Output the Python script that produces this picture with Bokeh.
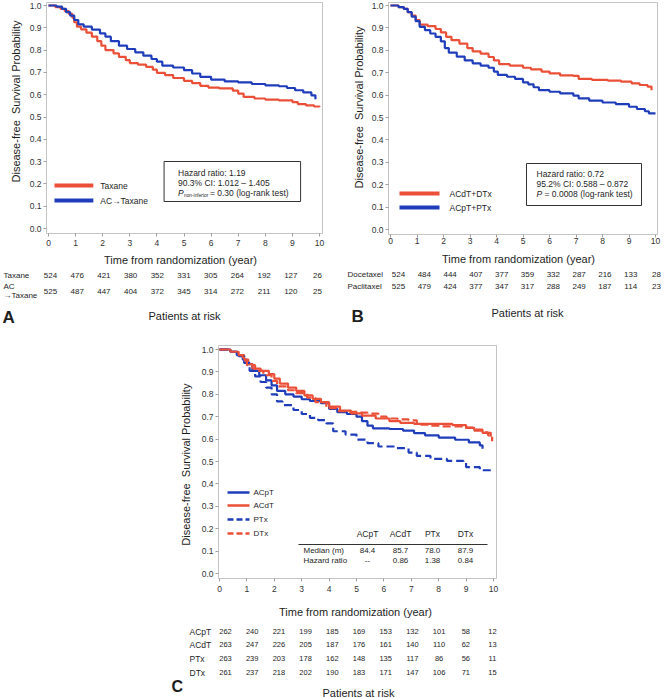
import math
from bokeh.plotting import figure
from bokeh.models import (Label, FixedTicker, PrintfTickFormatter, Range1d, Spacer, BoxAnnotation)
from bokeh.layouts import row, column
from bokeh.embed import file_html
from bokeh.resources import INLINE
from bokeh.core.properties import value

FONT = "Liberation Sans"
RED = "#EB4F37"
BLUE = "#1F3DBB"
TXT = "#1e1e1e"

years = list(range(11))

# ---------------- Panel A data ----------------
a_tax_t = [0, 0.25, 0.45, 0.6, 0.75, 0.88, 0.95, 1.05, 1.2, 1.4, 1.6, 1.8, 1.95, 2.1, 2.4, 2.6, 2.85,
           3.0, 3.3, 3.6, 3.85, 4.0, 4.3, 4.6, 5.0, 5.3, 5.6, 5.9, 6.3, 6.8, 7.0, 7.2, 7.6, 8.0, 8.5,
           9.0, 9.2, 9.5, 9.8, 10.0]
a_tax_s = [1.0, 0.993, 0.985, 0.975, 0.962, 0.945, 0.925, 0.905, 0.893, 0.878, 0.86, 0.84, 0.82,
           0.80, 0.785, 0.77, 0.755, 0.742, 0.735, 0.725, 0.712, 0.698, 0.688, 0.675, 0.662, 0.652,
           0.64, 0.632, 0.628, 0.618, 0.605, 0.59, 0.583, 0.578, 0.575, 0.567, 0.558, 0.552, 0.547,
           0.545]
a_act_t = [0, 0.3, 0.5, 0.65, 0.8, 0.95, 1.1, 1.3, 1.6, 1.9, 2.1, 2.3, 2.6, 2.9, 3.2, 3.5, 3.8, 4.0,
           4.2, 4.6, 5.0, 5.3, 5.6, 6.0, 6.5, 7.0, 7.5, 8.0, 8.5, 8.8, 9.1, 9.4, 9.7, 9.85]
a_act_s = [1.0, 0.995, 0.985, 0.97, 0.955, 0.935, 0.915, 0.905, 0.892, 0.875, 0.86, 0.84, 0.82,
           0.805, 0.79, 0.775, 0.76, 0.748, 0.73, 0.722, 0.71, 0.695, 0.68, 0.668, 0.66, 0.655,
           0.648, 0.642, 0.638, 0.63, 0.62, 0.61, 0.597, 0.58]
a_risk_taxane = [524, 476, 421, 380, 352, 331, 305, 264, 192, 127, 26]
a_risk_act = [525, 487, 447, 404, 372, 345, 314, 272, 211, 120, 25]

# ---------------- Panel B data ----------------
b_d_t = [0, 0.3, 0.5, 0.65, 0.8, 0.95, 1.1, 1.4, 1.7, 1.9, 2.1, 2.3, 2.6, 2.9, 3.1, 3.4, 3.7, 3.9,
         4.1, 4.5, 5.0, 5.3, 5.7, 6.0, 6.4, 6.9, 7.1, 7.6, 8.2, 8.7, 9.1, 9.4, 9.7, 9.85]
b_d_s = [1.0, 0.993, 0.985, 0.97, 0.955, 0.935, 0.915, 0.908, 0.895, 0.88, 0.86, 0.845, 0.83,
         0.81, 0.795, 0.785, 0.77, 0.755, 0.738, 0.732, 0.722, 0.715, 0.705, 0.697, 0.688, 0.686,
         0.672, 0.668, 0.665, 0.66, 0.652, 0.645, 0.638, 0.622]
b_p_t = [0, 0.3, 0.5, 0.65, 0.8, 0.95, 1.1, 1.3, 1.5, 1.7, 1.9, 2.05, 2.2, 2.5, 2.8, 3.1, 3.4, 3.7,
         3.9, 4.05, 4.4, 4.7, 5.0, 5.2, 5.4, 5.6, 6.0, 6.4, 6.9, 7.1, 7.5, 8.0, 8.5, 9.0, 9.3, 9.6,
         9.75, 10.0]
b_p_s = [1.0, 0.993, 0.985, 0.97, 0.95, 0.93, 0.905, 0.89, 0.875, 0.86, 0.84, 0.81, 0.79, 0.772,
         0.755, 0.742, 0.732, 0.722, 0.705, 0.69, 0.682, 0.672, 0.657, 0.648, 0.635, 0.622, 0.615,
         0.608, 0.598, 0.585, 0.575, 0.567, 0.56, 0.548, 0.538, 0.528, 0.518, 0.518]
b_risk_doce = [524, 484, 444, 407, 377, 359, 332, 287, 216, 133, 28]
b_risk_pacli = [525, 479, 424, 377, 347, 317, 288, 249, 187, 114, 23]

# ---------------- Panel C data ----------------
c_acpt_t = [0, 0.4, 0.63, 0.85, 1.0, 1.2, 1.45, 1.7, 1.9, 2.1, 2.4, 2.7, 3.0, 3.3, 3.7, 4.0, 4.3,
            4.65, 5.0, 5.2, 5.4, 5.6, 6.2, 6.7, 7.1, 7.5, 8.0, 8.6, 9.1, 9.5, 9.6]
c_acpt_s = [1.0, 0.99, 0.975, 0.955, 0.935, 0.905, 0.885, 0.862, 0.84, 0.815, 0.8, 0.79, 0.778,
            0.77, 0.76, 0.735, 0.72, 0.712, 0.70, 0.68, 0.66, 0.648, 0.645, 0.638, 0.627, 0.617,
            0.607, 0.597, 0.585, 0.572, 0.557]
c_acdt_t = [0, 0.4, 0.7, 0.9, 1.05, 1.2, 1.5, 1.8, 2.0, 2.2, 2.5, 2.8, 3.1, 3.4, 3.7, 4.0, 4.4, 4.8,
            5.2, 5.7, 6.2, 6.6, 7.1, 7.8, 8.5, 9.0, 9.3, 9.6, 9.9]
c_acdt_s = [1.0, 0.99, 0.975, 0.955, 0.935, 0.915, 0.905, 0.89, 0.87, 0.848, 0.83, 0.815, 0.795,
            0.78, 0.765, 0.745, 0.727, 0.715, 0.705, 0.692, 0.68, 0.672, 0.668, 0.668, 0.662, 0.65,
            0.638, 0.628, 0.61]
c_ptx_t = [0, 0.4, 0.7, 0.9, 1.1, 1.3, 1.5, 1.7, 1.9, 2.1, 2.3, 2.7, 3.0, 3.3, 3.6, 3.9, 4.15, 4.6,
           5.0, 5.4, 5.8, 6.4, 6.9, 7.2, 7.7, 8.3, 8.9, 9.0, 9.5, 10.0]
c_ptx_s = [1.0, 0.99, 0.97, 0.94, 0.905, 0.88, 0.855, 0.83, 0.8, 0.768, 0.752, 0.73, 0.712, 0.695,
           0.685, 0.67, 0.635, 0.62, 0.598, 0.582, 0.567, 0.56, 0.54, 0.525, 0.512, 0.503, 0.498,
           0.475, 0.461, 0.458]
c_dtx_t = [0, 0.4, 0.63, 0.85, 1.0, 1.3, 1.6, 1.9, 2.1, 2.5, 2.8, 3.2, 3.5, 3.9, 4.3, 4.7, 5.1, 5.4,
           5.8, 6.1, 6.5, 6.9, 7.2, 7.7, 8.1, 8.6, 8.9, 9.3, 9.6, 9.8, 9.95]
c_dtx_s = [1.0, 0.99, 0.975, 0.95, 0.93, 0.905, 0.885, 0.86, 0.835, 0.818, 0.805, 0.785, 0.765,
           0.738, 0.725, 0.722, 0.718, 0.714, 0.7, 0.692, 0.688, 0.684, 0.665, 0.66, 0.657, 0.657,
           0.651, 0.642, 0.63, 0.617, 0.59]
c_risk_acpt = [262, 240, 221, 199, 185, 169, 153, 132, 101, 58, 12]
c_risk_acdt = [263, 247, 226, 205, 187, 176, 161, 140, 110, 62, 13]
c_risk_ptx = [263, 239, 203, 178, 162, 148, 135, 117, 86, 56, 11]
c_risk_dtx = [261, 237, 218, 202, 190, 183, 171, 147, 106, 71, 15]
c_arms = ["ACpT", "ACdT", "PTx", "DTx"]
c_median = ["84.4", "85.7", "78.0", "87.9"]
c_hr = ["--", "0.86", "1.38", "0.84"]

YT = "Disease-free\u00a0 Survival Probability"
XT = "Time from randomization (year)"
LW = 2.2


def mapper(x0, x10, y0, y1):
    X = lambda px: (px - x0) / (x10 - x0) * 10.0
    Y = lambda py: (y0 - py) / (y0 - y1)
    return X, Y


def plot_fig(ox, oy, w, h, fl, fr, ft, fb, X, Y, xstand):
    p = figure(width=w, height=h, output_backend="svg", toolbar_location=None,
               x_range=Range1d(X(fl), X(fr)), y_range=Range1d(Y(fb), Y(ft)),
               min_border_left=fl - ox, min_border_right=ox + w - fr,
               min_border_top=ft - oy, min_border_bottom=oy + h - fb)
    p.xgrid.visible = False
    p.ygrid.visible = False
    p.outline_line_color = "#c4c4c4"
    p.outline_line_width = 1
    p.background_fill_color = "white"
    p.border_fill_color = "white"
    for ax in (p.xaxis[0], p.yaxis[0]):
        ax.axis_line_color = None
        ax.major_tick_line_color = "#a0a0a0"
        ax.major_tick_out = 3
        ax.major_tick_in = 0
        ax.minor_tick_line_color = None
        ax.major_label_text_font = FONT
        ax.major_label_text_font_size = "8.5px"
        ax.major_label_text_color = "#333333"
    p.xaxis.ticker = FixedTicker(ticks=years)
    p.yaxis.ticker = FixedTicker(ticks=[i / 10 for i in range(11)])
    p.yaxis.formatter = PrintfTickFormatter(format="%.1f")
    p.yaxis.major_label_standoff = 2
    p.xaxis.major_label_standoff = xstand
    return p


def canvas_fig(ox, oy, w, h, X=None):
    """Figure whose frame covers the whole area; y in page pixels, x in years (if X) or pixels."""
    xr = Range1d(X(ox), X(ox + w)) if X else Range1d(ox, ox + w)
    p = figure(width=w, height=h, output_backend="svg", toolbar_location=None,
               x_range=xr, y_range=Range1d(oy + h, oy),
               x_axis_location=None, y_axis_location=None,
               min_border_left=0, min_border_right=0, min_border_top=0, min_border_bottom=0)
    p.xgrid.visible = False
    p.ygrid.visible = False
    p.outline_line_color = None
    p.background_fill_color = "white"
    p.border_fill_color = "white"
    return p


def txt(p, xs, ys, texts, size=8.0, align="left", style="normal", angle=0.0):
    p.text(x=xs, y=ys, text=texts, text_font=value(FONT), text_font_size=value(f"{size}px"),
           text_align=value(align), text_baseline=value("middle"),
           text_font_style=value(style), angle=angle, text_color=TXT)


def lab(p, X, Y, px, py, text, size=8.5, align="left", style="normal"):
    p.add_layout(Label(x=X(px), y=Y(py), text=text, text_font=FONT,
                       text_font_size=f"{size}px", text_align=align, text_baseline="middle",
                       text_font_style=style, text_color=TXT))


def col_pos(X, first_px, last_px):
    """Column centres of an at-risk table, spread evenly between two page positions."""
    return [X(first_px + (last_px - first_px) * i / 10.0) for i in years]


# ================= Panel A =================
XA, YA = mapper(47, 319, 228, 5)
tA = canvas_fig(0, 0, 26, 252)
txt(tA, [15], [108], [YT], 11, "center", angle=math.pi / 2)
pA = plot_fig(26, 0, 304, 252, 45, 322, 2, 233, XA, YA, 3)
pA.step(a_tax_t, a_tax_s, mode="after", line_color=RED, line_width=LW)
pA.step(a_act_t, a_act_s, mode="after", line_color=BLUE, line_width=LW)
pA.line([XA(53), XA(92)], [YA(185)] * 2, line_color=RED, line_width=4)
pA.line([XA(53), XA(92)], [YA(200)] * 2, line_color=BLUE, line_width=4)
lab(pA, XA, YA, 99, 185, "Taxane", 8.5)
lab(pA, XA, YA, 99, 200, "AC\u2192Taxane", 8.5)
pA.add_layout(BoxAnnotation(left=XA(163), right=XA(300), top=YA(161), bottom=YA(201),
                            fill_color=None, line_color="#333333", line_width=1, line_alpha=1))
lab(pA, XA, YA, 177, 172, "Hazard ratio: 1.19", 8.5)
lab(pA, XA, YA, 177, 182, "90.3% CI: 1.012 \u2013 1.405", 8.5)
lab(pA, XA, YA, 177, 192, "P", 8.5, style="italic")
lab(pA, XA, YA, 183, 194.5, "non-inferior", 4.8)
lab(pA, XA, YA, 209, 192, "= 0.30 (log-rank test)", 8.5)

rA = canvas_fig(0, 252, 330, 78, XA)
txt(rA, [XA(180)], [259], [XT], 11, "center")
txt(rA, [XA(3)], [275], ["Taxane"], 8)
txt(rA, [XA(3)], [286], ["AC"], 8)
txt(rA, [XA(3)], [295], ["\u2192Taxane"], 8)
xa_cols = col_pos(XA, 50, 317)
txt(rA, xa_cols, [275] * 11, [str(v) for v in a_risk_taxane], 8, "center")
txt(rA, xa_cols, [291] * 11, [str(v) for v in a_risk_act], 8, "center")
txt(rA, [XA(2)], [317], ["A"], 17, style="bold")
txt(rA, [XA(184)], [315], ["Patients at risk"], 11, "center")

colA = column(row(tA, pA), rA)

# ================= Panel B =================
XB, YB = mapper(390, 655, 229, 5)
tB = canvas_fig(330, 0, 38, 252)
txt(tB, [358], [114], [YT], 11, "center", angle=math.pi / 2)
pB = plot_fig(368, 0, 296, 252, 388, 657, 2, 234, XB, YB, 0)
pB.step(b_d_t, b_d_s, mode="after", line_color=RED, line_width=LW)
pB.step(b_p_t, b_p_s, mode="after", line_color=BLUE, line_width=LW)
pB.line([XB(399), XB(439)], [YB(193)] * 2, line_color=RED, line_width=4)
pB.line([XB(399), XB(439)], [YB(207)] * 2, line_color=BLUE, line_width=4)
lab(pB, XB, YB, 449, 193, "ACdT+DTx", 8.5)
lab(pB, XB, YB, 449, 207, "ACpT+PTx", 8.5)
pB.add_layout(BoxAnnotation(left=XB(526), right=XB(641), top=YB(163), bottom=YB(205),
                            fill_color=None, line_color="#333333", line_width=1, line_alpha=1))
lab(pB, XB, YB, 536, 173, "Hazard ratio: 0.72", 8.5)
lab(pB, XB, YB, 536, 183, "95.2% CI: 0.588 \u2013 0.872", 8.5)
lab(pB, XB, YB, 536, 193, "P", 8.5, style="italic")
lab(pB, XB, YB, 544, 193, "= 0.0008 (log-rank test)", 8.5)

rB = canvas_fig(330, 252, 334, 78, XB)
txt(rB, [XB(518)], [258], [XT], 11, "center")
txt(rB, [XB(347)], [274], ["Docetaxel"], 8)
txt(rB, [XB(347)], [286], ["Paclitaxel"], 8)
xb_cols = col_pos(XB, 398, 656)
txt(rB, xb_cols, [274] * 11, [str(v) for v in b_risk_doce], 8, "center")
txt(rB, xb_cols, [286] * 11, [str(v) for v in b_risk_pacli], 8, "center")
txt(rB, [XB(351)], [316], ["B"], 17, style="bold")
txt(rB, [XB(527)], [312], ["Patients at risk"], 11, "center")

colB = column(row(tB, pB), rB)

# ================= Panel C =================
XC, YC = mapper(219, 493, 573, 349)
tC = canvas_fig(168, 330, 30, 266)
txt(tC, [185], [466], [YT], 11, "center", angle=math.pi / 2)
pC = plot_fig(198, 330, 312, 266, 218, 496, 345, 578, XC, YC, 4)
pC.step(c_acpt_t, c_acpt_s, mode="after", line_color=BLUE, line_width=LW)
pC.step(c_acdt_t, c_acdt_s, mode="after", line_color=RED, line_width=LW)
pC.step(c_ptx_t, c_ptx_s, mode="after", line_color=BLUE, line_width=LW, line_dash="8 4")
pC.step(c_dtx_t, c_dtx_s, mode="after", line_color=RED, line_width=LW, line_dash="8 4")
leg = [("ACpT", BLUE, "solid", 492), ("ACdT", RED, "solid", 505),
       ("PTx", BLUE, "6 3", 519), ("DTx", RED, "6 3", 533)]
for name, col, dash, py in leg:
    pC.line([XC(227), XC(249)], [YC(py)] * 2, line_color=col, line_width=2.5, line_dash=dash)
    lab(pC, XC, YC, 253, py, name, 8)
for i, (arm, med, hr) in enumerate(zip(c_arms, c_median, c_hr)):
    cx = [367, 400, 432, 465][i]
    lab(pC, XC, YC, cx, 533, arm, 8.5, align="center")
    lab(pC, XC, YC, cx, 550, med, 8, align="center")
    lab(pC, XC, YC, cx, 560, hr, 8, align="center")
pC.line([XC(298), XC(487)], [YC(544)] * 2, line_color="#333333", line_width=1)
lab(pC, XC, YC, 303, 550, "Median (m)", 8)
lab(pC, XC, YC, 303, 560, "Hazard ratio", 8)

rC = canvas_fig(168, 596, 342, 102, XC)
txt(rC, [XC(355)], [611], [XT], 11, "center")
xc_cols = col_pos(XC, 225, 492)
for name, vals, py in [("ACpT", c_risk_acpt, 631), ("ACdT", c_risk_acdt, 644),
                       ("PTx", c_risk_ptx, 658), ("DTx", c_risk_dtx, 672)]:
    txt(rC, [XC(189)], [py], [name], 8.5)
    txt(rC, xc_cols, [py] * 11, [str(v) for v in vals], 7.5, "center")
txt(rC, [XC(171)], [686], ["C"], 16, style="bold")
txt(rC, [XC(358)], [692], ["Patients at risk"], 11, "center")

colC = column(row(tC, pC), rC)

layout = column(row(colA, colB), row(Spacer(width=168, height=368), colC))

with open("out.html", "w") as f:
    f.write(file_html(layout, INLINE))
